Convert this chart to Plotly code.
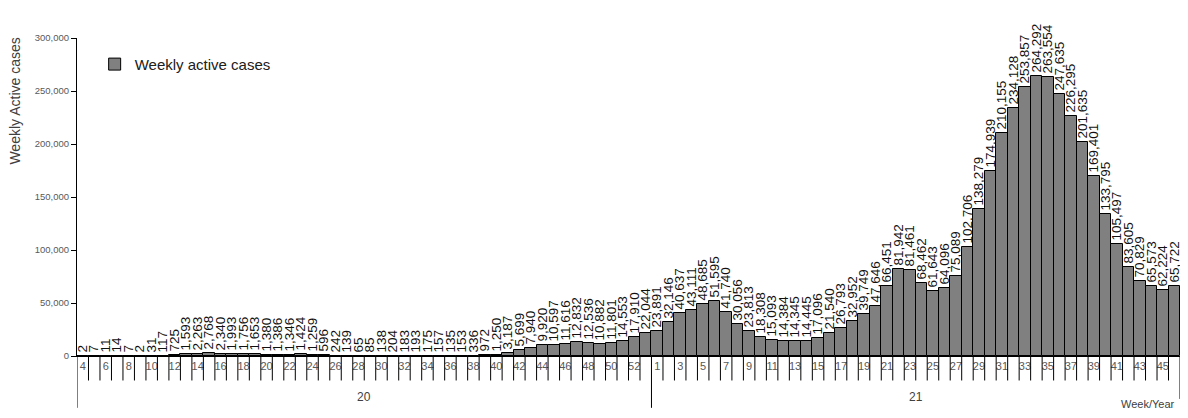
import plotly.graph_objects as go

# ---------------- data ----------------
weeks_2020 = list(range(4, 54))
cases_2020 = [2, 7, 11, 14, 7, 2, 31, 117, 725, 1593, 2263, 2768, 2340, 1993, 1756,
              1653, 1380, 1386, 1346, 1424, 1259, 596, 242, 139, 65, 85, 138, 204,
              183, 193, 175, 157, 135, 153, 336, 972, 1250, 3187, 5699, 7940, 9920,
              10597, 11616, 12832, 12536, 10882, 11801, 14553, 17910, 22044]
weeks_2021 = list(range(1, 47))
cases_2021 = [23891, 32146, 40637, 43111, 48685, 51595, 41740, 30056, 23813, 18308,
              15093, 14384, 14345, 14445, 17096, 21540, 26793, 32952, 39749, 47646,
              66451, 81942, 81461, 68462, 61643, 64096, 75089, 102706, 138279, 174939,
              210155, 234128, 253857, 264292, 263554, 247635, 226295, 201635, 169401,
              133795, 105497, 83605, 70829, 65573, 62224, 65722]
year_labels = ["20", "21"]
y_ticks = [0, 50000, 100000, 150000, 200000, 250000, 300000]

categories = [f"20-{w}" for w in weeks_2020] + [f"21-{w}" for w in weeks_2021]
values = cases_2020 + cases_2021
week_text = [str(w) for w in weeks_2020 + weeks_2021]
groups = [len(weeks_2020), len(weeks_2021)]

FONT = "Liberation Sans, Arial, sans-serif"

fig = go.Figure()
fig.add_trace(go.Bar(
    x=categories, y=values, name="Weekly active cases", showlegend=True,
    marker=dict(color="#808080", line=dict(color="#000000", width=1)),
    texttemplate="%{y:,}", textposition="outside", textangle=-90,
    textfont=dict(family=FONT, size=13.5, color="#111111"),
    constraintext="none", cliponaxis=False,
))

shapes = []
n = len(categories)
bounds = [0]
for g in groups:
    bounds.append(bounds[-1] + g)
for i in range(n + 1):
    long_line = i in bounds
    shapes.append(dict(type="line", xref="x", yref="paper",
                       x0=i - 0.5, x1=i - 0.5, y0=0,
                       y1=(-0.135 if i == n else -0.163) if long_line else -0.077,
                       line=dict(color="#000000", width=1)))

annotations = []
for k, lab in enumerate(year_labels):
    center = (bounds[k] + bounds[k + 1] - 1) / 2
    annotations.append(dict(x=center, y=-0.128, xref="x", yref="paper", text=lab,
                            showarrow=False, yanchor="middle",
                            font=dict(family=FONT, size=12, color="#404040")))
annotations.append(dict(x=-0.0562, y=0.8, xref="paper", yref="paper",
                        xanchor="center", yanchor="middle",
                        text="Weekly Active cases", textangle=-90, showarrow=False,
                        font=dict(family=FONT, size=14, color="#404040")))
annotations.append(dict(x=0.997, y=-0.152, xref="paper", yref="paper", xanchor="right",
                        yanchor="middle", text="Week/Year", showarrow=False,
                        font=dict(family=FONT, size=11, color="#404040")))

fig.update_layout(
    width=1180, height=402,
    margin=dict(l=69, r=8, t=30, b=54, autoexpand=False),
    paper_bgcolor="white", plot_bgcolor="white",
    bargap=0,
    font=dict(family=FONT),
    shapes=shapes, annotations=annotations,
    legend=dict(x=0.016, y=0.969, xanchor="left", yanchor="top",
                bgcolor="rgba(0,0,0,0)", font=dict(family=FONT, size=15, color="#202020"),
                itemwidth=30),
    xaxis=dict(type="category", range=[-0.5, n - 0.5], tickmode="array",
               tickvals=categories[::2], ticktext=week_text[::2], ticks="",
               showline=True, linecolor="#000000", linewidth=1, showgrid=False,
               tickfont=dict(family=FONT, size=11, color="#595959")),
    yaxis=dict(range=[0, 300000], tickvals=y_ticks, tickformat=",", ticks="outside",
               ticklen=5, tickcolor="#000000", showline=True, linecolor="#000000",
               linewidth=1, showgrid=False, zeroline=False,
               tickfont=dict(family=FONT, size=9.5, color="#595959")),
)

fig.write_html("out.html")
